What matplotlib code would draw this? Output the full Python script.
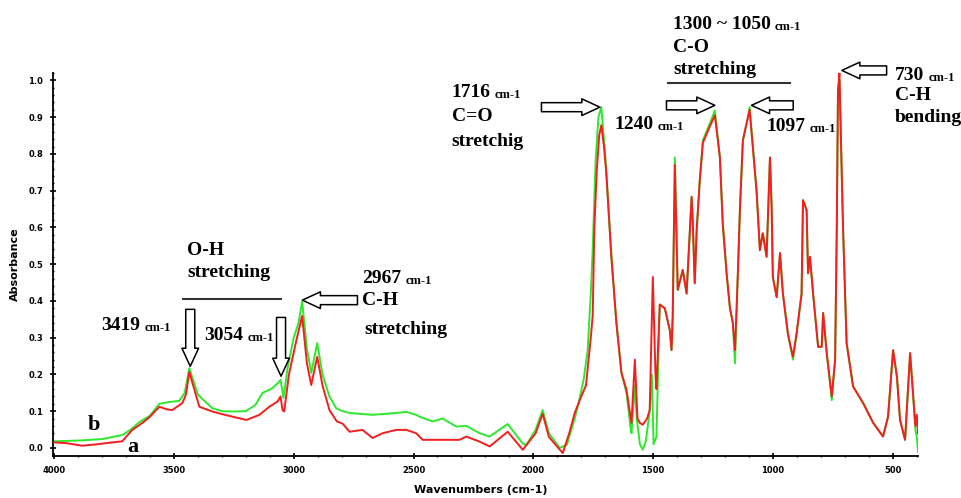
import numpy as np
import matplotlib
matplotlib.use('Agg')
import matplotlib.pyplot as plt
from matplotlib.ticker import MultipleLocator

#-------------------------   Spectrum data   ----------------------------------

#High wavenumber part, spectrum b (green)
wn_b_hi = [4000, 3900, 3800, 3716, 3680, 3645, 3600, 3561, 3520, 3478, 3455,
           3436, 3420, 3400, 3373, 3340, 3300, 3250, 3200, 3160, 3130, 3095,
           3068, 3055, 3043, 3025, 3000, 2980, 2965, 2945, 2927, 2902, 2880,
           2851, 2823, 2796, 2767, 2671, 2572, 2530, 2489, 2475, 2420, 2379,
           2321, 2280, 2224, 2182, 2107, 2044, 2029, 1990, 1961, 1935, 1890,
           1860, 1827, 1810, 1790, 1773, 1760, 1752, 1740, 1728, 1716, 1700,
           1674, 1653, 1632, 1611, 1595, 1590, 1576, 1568, 1555, 1543, 1530,
           1514, 1505, 1498, 1486]
abs_b_hi = [0.018, 0.020, 0.024, 0.035, 0.050, 0.070, 0.088, 0.120, 0.125,
            0.128, 0.150, 0.217, 0.185, 0.145, 0.128, 0.108, 0.100, 0.099,
            0.100, 0.117, 0.150, 0.160, 0.175, 0.185, 0.136, 0.220, 0.300,
            0.340, 0.398, 0.270, 0.204, 0.285, 0.200, 0.140, 0.108, 0.100,
            0.095, 0.090, 0.095, 0.098, 0.090, 0.085, 0.072, 0.080, 0.058,
            0.060, 0.040, 0.031, 0.065, 0.012, 0.008, 0.050, 0.103, 0.040,
            0.000, 0.008, 0.080, 0.125, 0.185, 0.266, 0.420, 0.540, 0.780,
            0.900, 0.927, 0.800, 0.520, 0.340, 0.204, 0.150, 0.060, 0.040,
            0.170, 0.080, 0.010, -0.005, 0.020, 0.100, 0.200, 0.010, 0.030]

#High wavenumber part, spectrum a (red)
wn_a_hi = [4000, 3950, 3883, 3820, 3770, 3716, 3700, 3674, 3632, 3600, 3561,
           3530, 3507, 3465, 3450, 3436, 3420, 3394, 3340, 3300, 3256, 3198,
           3143, 3102, 3068, 3055, 3047, 3040, 3020, 2990, 2965, 2945, 2927,
           2902, 2880, 2851, 2820, 2796, 2767, 2713, 2671, 2629, 2572, 2530,
           2489, 2462, 2308, 2280, 2224, 2182, 2107, 2044, 1990, 1961, 1935,
           1877, 1850, 1827, 1800, 1780, 1760, 1752, 1745, 1735, 1725, 1716,
           1705, 1695, 1674, 1653, 1632, 1611, 1590, 1576, 1565, 1555, 1543,
           1525, 1514, 1501, 1490, 1486]
abs_a_hi = [0.015, 0.013, 0.006, 0.010, 0.014, 0.018, 0.030, 0.049, 0.068,
            0.085, 0.112, 0.105, 0.103, 0.122, 0.145, 0.207, 0.170, 0.112,
            0.099, 0.092, 0.085, 0.076, 0.090, 0.112, 0.126, 0.140, 0.103,
            0.099, 0.200, 0.290, 0.359, 0.230, 0.171, 0.248, 0.170, 0.103,
            0.072, 0.066, 0.044, 0.049, 0.027, 0.040, 0.049, 0.049, 0.040,
            0.022, 0.022, 0.031, 0.017, 0.004, 0.044, -0.005, 0.040, 0.093,
            0.030, -0.014, 0.040, 0.095, 0.140, 0.170, 0.300, 0.360, 0.600,
            0.755, 0.850, 0.878, 0.820, 0.747, 0.520, 0.340, 0.204, 0.158,
            0.068, 0.240, 0.080, 0.068, 0.063, 0.080, 0.103, 0.465, 0.200,
            0.160]

#Fingerprint region (both spectra nearly overlap)
fp_wn = [1472, 1451, 1430, 1423, 1418, 1409, 1397, 1376, 1360, 1339, 1334,
         1326, 1318, 1305, 1292, 1263, 1242, 1221, 1209, 1193, 1179, 1167,
         1158, 1146, 1137, 1125, 1104, 1097, 1068, 1054, 1042, 1026, 1012,
         1005, 1000, 984, 970, 958, 937, 916, 901, 880, 874, 859, 853, 845,
         832, 811, 796, 790, 775, 754, 740, 733, 728, 722, 707, 692, 665, 623,
         581, 540, 519, 498, 482, 469, 448, 427, 415, 405, 399, 394]
fp_b = [0.390, 0.380, 0.320, 0.266, 0.357, 0.790, 0.430, 0.484, 0.420, 0.683,
        0.610, 0.448, 0.592, 0.728, 0.837, 0.883, 0.918, 0.790, 0.610, 0.475,
        0.380, 0.340, 0.230, 0.475, 0.656, 0.837, 0.900, 0.927, 0.700, 0.538,
        0.584, 0.520, 0.790, 0.656, 0.465, 0.410, 0.530, 0.420, 0.310, 0.240,
        0.310, 0.420, 0.674, 0.647, 0.475, 0.520, 0.420, 0.275, 0.275, 0.367,
        0.258, 0.130, 0.240, 0.600, 0.973, 1.000, 0.600, 0.285, 0.167, 0.122,
        0.068, 0.031, 0.085, 0.266, 0.194, 0.076, 0.022, 0.258, 0.150, 0.050,
        0.030, -0.010]
fp_a = [0.390, 0.380, 0.320, 0.266, 0.357, 0.770, 0.430, 0.484, 0.420, 0.683,
        0.610, 0.448, 0.592, 0.728, 0.830, 0.875, 0.905, 0.790, 0.610, 0.475,
        0.380, 0.340, 0.266, 0.475, 0.656, 0.837, 0.900, 0.920, 0.700, 0.538,
        0.584, 0.520, 0.790, 0.656, 0.465, 0.410, 0.530, 0.420, 0.310, 0.248,
        0.310, 0.420, 0.674, 0.647, 0.475, 0.520, 0.420, 0.275, 0.275, 0.367,
        0.258, 0.140, 0.240, 0.600, 0.973, 1.020, 0.600, 0.285, 0.167, 0.122,
        0.068, 0.031, 0.085, 0.266, 0.194, 0.076, 0.022, 0.258, 0.150, 0.060,
        0.090, 0.040]

wn_b = wn_b_hi + fp_wn
abs_b = abs_b_hi + fp_b
wn_a = wn_a_hi + fp_wn
abs_a = abs_a_hi + fp_a

#Tick labels
xticks = [4000, 3500, 3000, 2500, 2000, 1500, 1000, 500]
yticks = [0.0, 0.1, 0.2, 0.3, 0.4, 0.5, 0.6, 0.7, 0.8, 0.9, 1.0]

#-------------------------   Plot settings   ----------------------------------

W, H = 961, 498
green = '#2ee82e'
red = '#f41e1e'
serif = 'Liberation Serif'
fsize = 14
unitsize = 9

fig = plt.figure(figsize=(W/100, H/100), dpi=100)
ax = fig.add_axes([53/W, (H-456)/H, (918-53)/W, (456-73)/H])

ax.plot(wn_b, abs_b, color=green, lw=1.4, zorder=2)
ax.plot(wn_a, abs_a, color=red, lw=1.4, zorder=3)

ax.set_xlim(4005, 394)
ax.set_ylim(-0.022, 1.02)

#Axes styling: only left and bottom spines
for s in ['top', 'right']:
    ax.spines[s].set_visible(False)
for s in ['left', 'bottom']:
    ax.spines[s].set_linewidth(1.3)

ax.set_xticks(xticks)
ax.set_xticklabels([str(x) for x in xticks])
ax.set_yticks(yticks)
ax.set_yticklabels(['%.1f' % y for y in yticks])
ax.xaxis.set_minor_locator(MultipleLocator(100))
ax.yaxis.set_minor_locator(MultipleLocator(0.02))
ax.tick_params(which='major', direction='inout', length=4, width=1.2,
               labelsize=6, pad=5)
ax.tick_params(which='minor', direction='inout', length=2, width=1)
for lab in ax.get_xticklabels() + ax.get_yticklabels():
    lab.set_fontweight('bold')

ax.set_ylabel('Absorbance', fontsize=8, fontweight='bold')
ax.yaxis.set_label_coords(-0.038, 0.5)
ax.set_xlabel('Wavenumbers (cm-1)', fontsize=8, fontweight='bold')
ax.xaxis.set_label_coords(0.494, -0.075)

#-------------------------   Annotations   ------------------------------------

def txt(x, y, s, size=fsize):
    return ax.text(x, y, s, fontsize=size, fontweight='bold', family=serif,
                   va='center', ha='left', clip_on=False)

def band(x, y, num):
    t = txt(x, y, num)
    ax.annotate('cm-1', xy=(1, 0.35), xycoords=t, xytext=(3, 0),
                textcoords='offset points', fontsize=unitsize,
                fontweight='bold', family=serif, va='center', ha='left',
                annotation_clip=False)

def arrow(tail, tip):
    ax.annotate('', xy=tip, xytext=tail, annotation_clip=False,
                arrowprops=dict(arrowstyle='simple,head_length=13,'
                                'head_width=12,tail_width=6.5',
                                mutation_scale=1, fc='white', ec='black',
                                lw=1.1, shrinkA=0, shrinkB=0))

#O-H region
band(3804, 0.334, '3419')
txt(3444, 0.538, 'O-H')
txt(3444, 0.478, 'stretching')
ax.plot([3464, 3053], [0.404, 0.404], color='#333333', lw=1.5, clip_on=False)
arrow((3432, 0.377), (3432, 0.222))
band(3373, 0.307, '3054')
arrow((3053, 0.355), (3053, 0.195))

#C-H stretching
band(2713, 0.462, '2967')
txt(2713, 0.402, 'C-H')
txt(2705, 0.323, 'stretching')
arrow((2734, 0.402), (2964, 0.402))

#C=O
band(2341, 0.967, '1716')
txt(2341, 0.902, 'C=O')
txt(2341, 0.834, 'stretchig')
arrow((1966, 0.927), (1722, 0.927))

#C-O
band(1417, 1.152, '1300 ~ 1050')
txt(1417, 1.090, 'C-O')
txt(1417, 1.030, 'stretching')
ax.plot([1437, 929], [0.993, 0.993], color='#333333', lw=1.5, clip_on=False)
band(1660, 0.880, '1240')
arrow((1444, 0.932), (1242, 0.932))
band(1025, 0.875, '1097')
arrow((915, 0.932), (1089, 0.932))

#C-H bending
band(490, 1.014, '730')
txt(490, 0.959, 'C-H')
txt(490, 0.899, 'bending')
arrow((525, 1.027), (712, 1.027))

#Curve labels
txt(3862, 0.0625, 'b', size=16)
txt(3695, 0.003, 'a', size=16)

plt.savefig('out.png', dpi=100)
